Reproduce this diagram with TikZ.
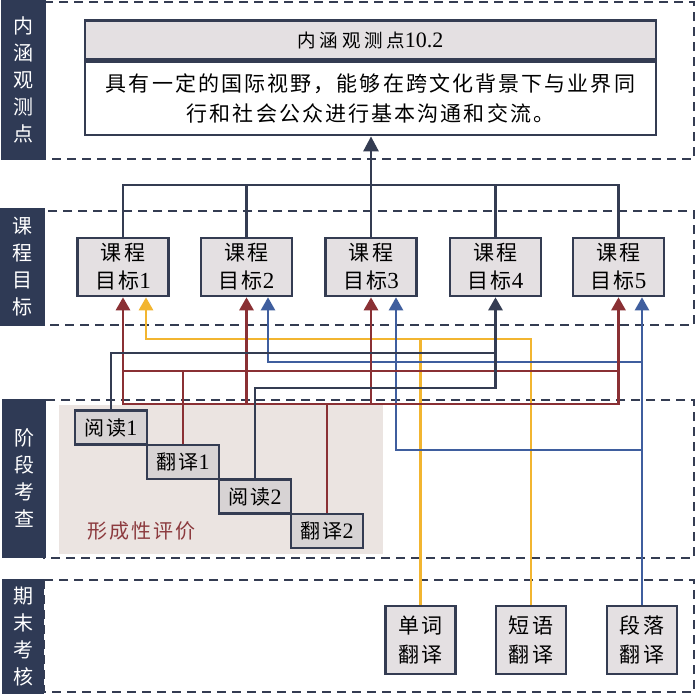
\documentclass[tikz,border=0pt]{standalone}
\usepackage{fontspec}
\setmainfont{Liberation Serif}
\newfontfamily\cjk{Noto Sans CJK SC}[LetterSpace=10]
\newfontfamily\cjkh{Noto Sans CJK SC}[LetterSpace=20]
\usetikzlibrary{arrows.meta,calc}
\definecolor{navy}{HTML}{343C52}
\definecolor{barnavy}{HTML}{2F3A55}
\definecolor{rl}{HTML}{8A3034}
\definecolor{yl}{HTML}{F2B530}
\definecolor{bl}{HTML}{3F5E9E}
\definecolor{boxg}{HTML}{E4E0E2}
\definecolor{stagebg}{HTML}{EBE4E1}
\definecolor{stagebox}{HTML}{D7D3D4}
\definecolor{fcol}{HTML}{8C3A3E}
\pgfdeclarelayer{bglayer}
\pgfdeclarelayer{lnlayer}
\pgfsetlayers{bglayer,lnlayer,main}
\begin{document}
\begin{tikzpicture}[x=1pt,y=-1pt,
  band/.style={draw=navy, line width=2.5pt, dash pattern=on 9pt off 6pt},
  sidebar/.style={fill=barnavy, draw=none, text=white, inner sep=0pt, align=center,
    font=\cjk\fontsize{20}{27}\selectfont},
  gbox/.style={draw=navy, line width=2.6pt, fill=boxg, minimum width=91pt, minimum height=58pt,
    inner sep=0pt, align=center, font=\fontsize{23}{28}\selectfont},
  sbox/.style={draw=navy, line width=2.6pt, fill=stagebox, minimum width=72pt, minimum height=34pt,
    inner sep=0pt, font=\fontsize{22}{24}\selectfont},
  fbox/.style={draw=navy, line width=2.6pt, fill=boxg, minimum width=70pt, minimum height=68pt,
    inner sep=0pt, align=center, font=\fontsize{21}{29}\selectfont},
  hbox/.style={draw=navy, line width=2.6pt, minimum width=571pt, inner sep=0pt, align=center},
  conn/.style={line width=2.8pt, line cap=rect, line join=miter},
  bconn/.style={line width=2.3pt, line cap=rect, line join=miter, draw=bl},
  tip/.style={-{Triangle[width=14pt,length=13pt]}},
]
\useasboundingbox (0,0) rectangle (697,694);

% ---------- background layer: bands, bars, stage background
\begin{pgfonlayer}{bglayer}
\fill[white] (0,0) rectangle (697,694);
\draw[band] (44,2) rectangle (694,159);
\draw[band] (44,211) rectangle (694,325);
\draw[band] (44,400) rectangle (694,558);
\draw[band] (44,580) rectangle (694,692);
\node[sidebar, minimum width=45pt, minimum height=160pt] (b1) at (23.5,80) {内\\涵\\观\\测\\点};
\node[sidebar, minimum width=45pt, minimum height=118pt] (b2) at (22.5,267) {课\\程\\目\\标};
\node[sidebar, minimum width=44pt, minimum height=159pt] (b3) at (24,478.5) {阶\\段\\考\\查};
\node[sidebar, minimum width=42pt, minimum height=115pt] (b4) at (23,636.5) {期\\末\\考\\核};
\fill[stagebg] (59,405) rectangle (383,554);
\end{pgfonlayer}

% ---------- boxes
\node[hbox, fill=boxg, minimum height=39pt, font=\fontsize{22}{24}\selectfont] (hdr) at (370.5,40)
  {{\cjkh\fontsize{18.5}{22}\selectfont 内涵观测点}10.2};
\node[hbox, fill=white, minimum height=73pt, anchor=north, font=\cjk\fontsize{21}{30}\selectfont] (top) at (hdr.south)
  {具有一定的国际视野，能够在跨文化背景下与业界同\\行和社会公众进行基本沟通和交流。};

\node[gbox] (g1) at (123,267) {{\cjk\fontsize{21}{28}\selectfont 课程}\\{\cjk\fontsize{21}{28}\selectfont 目标}1};
\node[gbox] (g2) at (246.5,267) {{\cjk\fontsize{21}{28}\selectfont 课程}\\{\cjk\fontsize{21}{28}\selectfont 目标}2};
\node[gbox] (g3) at (371,267) {{\cjk\fontsize{21}{28}\selectfont 课程}\\{\cjk\fontsize{21}{28}\selectfont 目标}3};
\node[gbox] (g4) at (495.5,267) {{\cjk\fontsize{21}{28}\selectfont 课程}\\{\cjk\fontsize{21}{28}\selectfont 目标}4};
\node[gbox] (g5) at (618.5,267) {{\cjk\fontsize{21}{28}\selectfont 课程}\\{\cjk\fontsize{21}{28}\selectfont 目标}5};

\node[sbox] (r1) at (111,427.5) {{\cjk\fontsize{20}{24}\selectfont 阅读}1};
\node[sbox] (t1) at (183,462) {{\cjk\fontsize{20}{24}\selectfont 翻译}1};
\node[sbox] (r2) at (255,496.5) {{\cjk\fontsize{20}{24}\selectfont 阅读}2};
\node[sbox] (t2) at (327,531) {{\cjk\fontsize{20}{24}\selectfont 翻译}2};
\node[text=fcol, font=\cjk\fontsize{20}{24}\selectfont, inner sep=0pt] (fx) at (141,531) {形成性评价};

\node[fbox] (f1) at (420.5,640) {{\cjk 单词}\\{\cjk 翻译}};
\node[fbox] (f2) at (531,640) {{\cjk 短语}\\{\cjk 翻译}};
\node[fbox] (f3) at (642,640) {{\cjk 段落}\\{\cjk 翻译}};

% ---------- connectors
\begin{pgfonlayer}{lnlayer}
\coordinate (yT) at (0,185);
\coordinate (yY) at (0,339);
\coordinate (yN1) at (0,353);
\coordinate (yB1) at (0,362);
\coordinate (yR1) at (0,371);
\coordinate (yN2) at (0,388);
\coordinate (yR2) at (0,404);
\coordinate (yB2) at (0,450);
\coordinate (gy1) at ([xshift=23pt]g1.south);
\coordinate (gb2) at ([xshift=21.5pt]g2.south);
\coordinate (gb3) at ([xshift=25pt]g3.south);

% top tree
\draw[conn,navy] (g1.north) -- (g1.north |- yT) -- (g5.north |- yT) -- (g5.north);
\foreach \g in {g2,g3,g4} \draw[conn,navy] (\g.north) -- (\g.north |- yT);
\draw[conn,navy,-{Triangle[width=15pt,length=15pt]}] (g3.north |- yT) -- (g3.north |- top.south);

% yellow
\draw[conn,yl,tip] (f2.north) |- (gy1 |- yY) -- (gy1);
\draw[conn,yl] (f1.north) -- (f1.north |- yY);

% blue
\draw[bconn,tip] (f3.north) -- (f3.north |- g5.south);
\draw[bconn,tip] (f3.north |- yB1) -| (gb2);
\draw[bconn,tip] (f3.north |- yB2) -| (gb3);

% red
\draw[conn,rl] (g1.south |- yR1) -- (g5.south |- yR1);
\draw[conn,rl] (t1.north) -- (t1.north |- yR1);
\draw[conn,rl,tip] (t2.north) |- (g1.south |- yR2) -- (g1.south);
\draw[conn,rl,tip] (t2.north |- yR2) -| (g5.south);
\draw[conn,rl,tip] (g2.south |- yR2) -- (g2.south);
\draw[conn,rl,tip] (g3.south |- yR2) -- (g3.south);

% navy middle
\draw[conn,navy] (r1.north) |- (g4.south |- yN1);
\draw[conn,navy,tip] (r2.north) |- (g4.south |- yN2) -- (g4.south);
\end{pgfonlayer}
\end{tikzpicture}
\end{document}
